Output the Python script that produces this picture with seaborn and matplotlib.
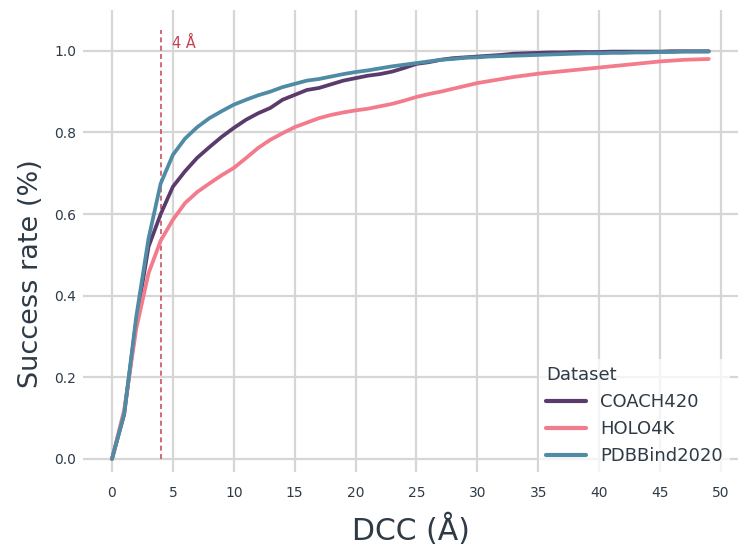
import numpy as np
import pandas as pd
import matplotlib
matplotlib.use('Agg')
import matplotlib.pyplot as plt
import seaborn as sns

# Valores (DCC de 0 a 49 Å)
dcc = list(range(0, 50))

coach420 = [0.0, 0.11, 0.34, 0.52, 0.60, 0.667, 0.705, 0.738, 0.764, 0.789,
            0.811, 0.831, 0.847, 0.860, 0.880, 0.892, 0.904, 0.909, 0.918, 0.927,
            0.933, 0.939, 0.943, 0.949, 0.958, 0.968, 0.972, 0.978, 0.982, 0.984,
            0.986, 0.988, 0.990, 0.993, 0.994, 0.995, 0.996, 0.996, 0.997, 0.997,
            0.997, 0.998, 0.998, 0.998, 0.998, 0.998, 0.999, 0.999, 0.999, 0.999]

holo4k = [0.0, 0.12, 0.32, 0.455, 0.535, 0.586, 0.627, 0.654, 0.675, 0.695,
          0.713, 0.737, 0.762, 0.782, 0.798, 0.813, 0.824, 0.835, 0.843, 0.849,
          0.854, 0.858, 0.864, 0.870, 0.878, 0.887, 0.894, 0.900, 0.907, 0.914,
          0.921, 0.926, 0.931, 0.936, 0.940, 0.944, 0.947, 0.950, 0.953, 0.956,
          0.959, 0.962, 0.965, 0.968, 0.971, 0.974, 0.976, 0.978, 0.979, 0.980]

pdbbind2020 = [0.0, 0.11, 0.35, 0.54, 0.675, 0.745, 0.785, 0.813, 0.835, 0.852,
               0.868, 0.880, 0.891, 0.900, 0.911, 0.919, 0.927, 0.931, 0.937, 0.943,
               0.948, 0.952, 0.957, 0.962, 0.966, 0.970, 0.974, 0.978, 0.980, 0.983,
               0.984, 0.986, 0.987, 0.988, 0.989, 0.990, 0.991, 0.992, 0.993, 0.994,
               0.994, 0.995, 0.995, 0.996, 0.996, 0.997, 0.997, 0.998, 0.998, 0.998]

datasets = ['COACH420', 'HOLO4K', 'PDBBind2020']
cores = {'COACH420': '#5b3b6b', 'HOLO4K': '#f27b8c', 'PDBBind2020': '#508ba5'}
corte = 4

df = pd.DataFrame({
    'DCC': dcc * 3,
    'Success': coach420 + holo4k + pdbbind2020,
    'Dataset': [d for d in datasets for _ in dcc],
})

texto = '#2e3a46'
grade = '#d6d6d6'

sns.set_style('white')
plt.rcParams['font.family'] = ['DejaVu Sans']

fig = plt.figure(figsize=(7.48, 5.58), dpi=100)
ax = fig.add_axes([83 / 748, 1 - 472 / 558, 655 / 748, 462 / 558])

sns.lineplot(data=df, x='DCC', y='Success', hue='Dataset', hue_order=datasets,
             palette=cores, linewidth=2.7, ax=ax)

# Linha de corte em 4 Å
ax.axvline(corte, ymin=(0 + 0.032) / 1.132, ymax=(1.05 + 0.032) / 1.132,
           color='#c8525f', linestyle=(0, (3, 2)), linewidth=1.2, zorder=1)
ax.text(corte + 0.9, 1.017, '4 Å', color='#c8404f', fontsize=10.5, va='center')

ax.set_xlim(-2.38, 51.4)
ax.set_ylim(-0.032, 1.10)
ax.set_xticks(np.arange(0, 51, 5))
ax.set_yticks(np.arange(0, 1.01, 0.2))
ax.set_yticklabels([f'{v:.1f}' for v in np.arange(0, 1.01, 0.2)])
ax.grid(True, color=grade, linewidth=1.6)
ax.set_axisbelow(True)
for s in ax.spines.values():
    s.set_visible(False)
ax.tick_params(axis='x', length=6, width=1.6, color=grade, pad=4, labelsize=10, labelcolor=texto)
ax.tick_params(axis='y', length=0, pad=5, labelsize=10, labelcolor=texto)

ax.set_xlabel('DCC (Å)', fontsize=21.5, color=texto, labelpad=10)
ax.set_ylabel('Success rate (%)', fontsize=19.5, color=texto)
ax.yaxis.set_label_coords(-(83 - 44) / 655, (472 - 274) / 462)

leg = ax.legend(title='Dataset', loc='lower right', fontsize=13, title_fontsize=13,
                bbox_to_anchor=(1 - 5 / 655, -3 / 462),
                frameon=True, framealpha=0.75, edgecolor='none', facecolor='white',
                handlelength=2.2, handletextpad=0.8, labelspacing=0.5,
                borderaxespad=0.15, borderpad=0.4, alignment='left')
leg.get_title().set_color(texto)
for t in leg.get_texts():
    t.set_color(texto)
for h in leg.get_lines():
    h.set_linewidth(3)

fig.savefig('out.png', dpi=100)
